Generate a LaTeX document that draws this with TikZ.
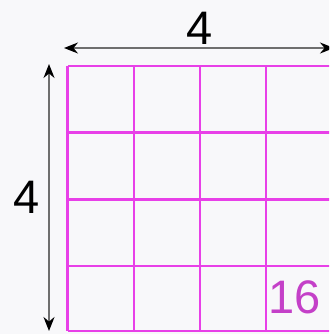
\documentclass[tikz,border=0pt]{standalone}
\usepackage{fontspec}
\setmainfont{Liberation Sans}
\usetikzlibrary{arrows.meta}
\definecolor{gridmag}{RGB}{232,64,232}
\definecolor{nummag}{RGB}{196,64,200}
\definecolor{bgc}{RGB}{248,248,250}
\definecolor{arrgray}{RGB}{110,110,110}
\tikzset{
  gridline/.style={draw=gridmag, line width=2.6pt},
  dimarrow/.style={draw=arrgray, line width=1.6pt, {Stealth[length=14pt,width=11pt,black]}-{Stealth[length=14pt,width=11pt,black]}},
  dimlabel/.style={font=\fontsize{47}{47}\selectfont, text=black, inner sep=0pt},
}
\begin{document}
\begin{tikzpicture}[x=1pt,y=-1pt]
\useasboundingbox (0,0) rectangle (329,334);
\fill[bgc] (0,0) rectangle (329,334);
\clip (0,0) rectangle (329,334);
% grid
\foreach \x in {67.7,134,200,266,332}
  \draw[gridline] (\x,66) -- (\x,331);
\foreach \y in {66,132.7,199.3,266,331}
  \draw[gridline] (67.7,\y) -- (332,\y);
% dimension arrows
\coordinate (hl) at (64,48);
\coordinate (hr) at (334,48);
\coordinate (vt) at (49,64);
\coordinate (vb) at (49,331);
\draw[dimarrow] (hl) -- (hr);
\draw[dimarrow] (vt) -- (vb);
\node[dimlabel] (top4) at (200,28) {4};
\node[dimlabel] (left4) at (27,197) {4};
\node[dimlabel, text=nummag] (n16) at (295,297) {16};
\end{tikzpicture}
\end{document}
